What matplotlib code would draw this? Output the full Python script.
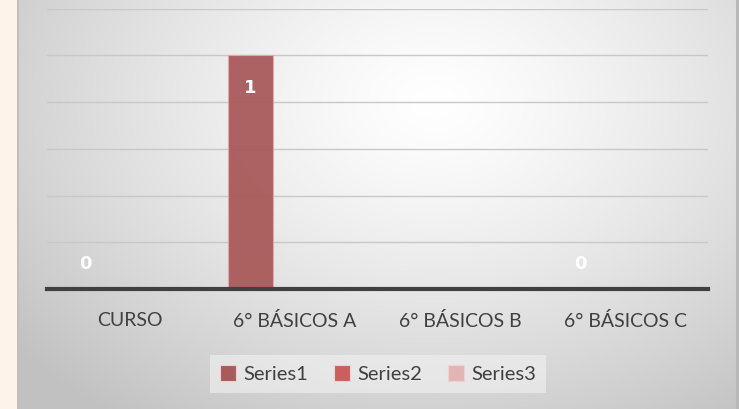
import numpy as np
import matplotlib
matplotlib.use("Agg")
import matplotlib.pyplot as plt
from matplotlib.patches import Patch, Rectangle

categories = ["CURSO", "6° BÁSICOS A", "6° BÁSICOS B", "6° BÁSICOS C"]
series_names = ["Series1", "Series2", "Series3"]
series1 = [0, 1, np.nan, 0]
series2 = [np.nan, np.nan, np.nan, np.nan]
series3 = [np.nan, np.nan, np.nan, np.nan]
series_values = [series1, series2, series3]
colors = ["#A95A5A", "#C9605E", "#E3B4B4"]

W, H = 739, 409
fig = plt.figure(figsize=(W / 100, H / 100), dpi=100)
fig.patch.set_facecolor("#FEF3EA")

# background gradient panel
bg = fig.add_axes([18 / W, 0, (736 - 18) / W, 1])
bg.set_axis_off()
yy, xx = np.mgrid[0:1:300j, 0:1:500j]
d = np.sqrt(((xx - 0.58) / 0.75) ** 2 + ((yy - 0.25) / 0.95) ** 2)
v = np.clip(1 - 0.24 * d ** 1.3, 0.76, 1)
bg.imshow(np.dstack([v, v, v]), extent=[0, 1, 0, 1], origin="upper", aspect="auto")
bg.set_xlim(0, 1); bg.set_ylim(0, 1)
fig.add_artist(Rectangle((17 / W, 0), 1.5 / W, 1, transform=fig.transFigure, color="#C4BCB6", lw=0))
fig.add_artist(Rectangle((735.5 / W, 0), 3.5 / W, 1, transform=fig.transFigure, color="#B8B8B8", lw=0))

ax = fig.add_axes([47 / W, (H - 289) / H, (708 - 47) / W, (289 - 8.5) / H])
ax.set_facecolor("none")
x = np.arange(len(categories))
bw = 0.27
offsets = [-bw, 0, bw]
for vals, name, c, off in zip(series_values, series_names, colors, offsets):
    ax.bar(x + off, vals, width=bw, color=c, edgecolor="#E8A8A8", linewidth=0.8, alpha=0.95, zorder=3)
    for xi, val in zip(x, vals):
        if np.isnan(val):
            continue
        ypos = val - 0.139 if val > 0 else 0.107
        ax.text(xi + off, ypos, f"{val:g}", ha="center", va="center", color="white",
                fontsize=13, fontweight="bold", family="DejaVu Sans", zorder=4)

ax.set_xlim(-0.5, 3.5)
ax.set_ylim(0, 1.2)
ax.set_yticks(np.arange(0, 1.21, 0.2))
ax.yaxis.grid(True, color="#C8C8C8", linewidth=1)
ax.set_axisbelow(True)
ax.tick_params(axis="y", left=False, labelleft=False)
ax.tick_params(axis="x", bottom=False, pad=13)
ax.set_xticks(x)
ax.set_xticklabels(categories, fontsize=14, color="#404040", family="Lato")
for s in ["top", "right", "left"]:
    ax.spines[s].set_visible(False)
ax.spines["bottom"].set_color("#404040")
ax.spines["bottom"].set_linewidth(3)
ax.spines["bottom"].set_zorder(5)

handles = [Patch(facecolor=c, edgecolor="#F0D0D0", linewidth=0.8) for c in colors]
leg = fig.legend(handles, series_names, loc="center", bbox_to_anchor=(378 / W, 1 - 374 / H),
                 ncol=3, frameon=True, handlelength=0.8, handleheight=0.8,
                 handletextpad=0.35, columnspacing=1.3, borderpad=0.5, borderaxespad=0,
                 prop={"family": "Lato", "size": 14.5})
leg.get_frame().set_facecolor("#F2F2F2")
leg.get_frame().set_alpha(0.6)
leg.get_frame().set_edgecolor("none")
leg.get_frame().set_boxstyle("square", pad=0)
for t in leg.get_texts():
    t.set_color("#404040")

fig.savefig("out.png", dpi=100)
